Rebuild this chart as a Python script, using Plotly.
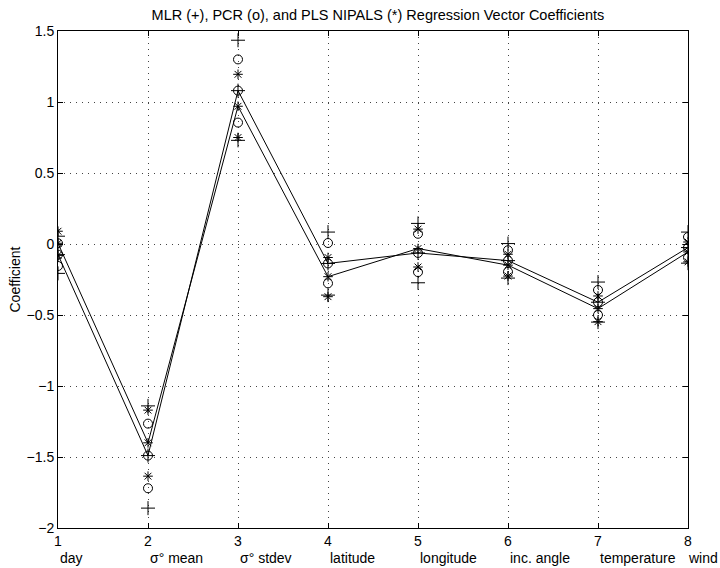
import plotly.graph_objects as go

# ---- data ----
x_vals = [1, 2, 3, 4, 5, 6, 7, 8]
var_names = ["day", "σ° mean", "σ° stdev", "latitude", "longitude",
             "inc. angle", "temperature", "wind"]

# MLR and PCR share the same coefficient estimates (full-rank PCR = MLR)
mlr_coef = [-0.075, -1.49, 1.08, -0.137, -0.063, -0.117, -0.41, -0.025]
mlr_upper = [0.055, -1.14, 1.435, 0.084, 0.145, 0.003, -0.268, 0.084]
mlr_lower = [-0.207, -1.86, 0.73, -0.36, -0.273, -0.24, -0.55, -0.135]

pcr_coef = [-0.075, -1.49, 1.08, -0.137, -0.063, -0.117, -0.41, -0.025]
pcr_upper = [0.005, -1.265, 1.30, 0.007, 0.072, -0.044, -0.324, 0.049]
pcr_lower = [-0.155, -1.72, 0.855, -0.277, -0.198, -0.196, -0.50, -0.095]

pls_coef = [0.005, -1.40, 0.97, -0.23, -0.032, -0.149, -0.455, -0.056]
pls_upper = [0.09, -1.17, 1.195, -0.095, 0.105, -0.072, -0.366, 0.014]
pls_lower = [-0.08, -1.635, 0.75, -0.371, -0.162, -0.226, -0.547, -0.126]

y_ticks = [-2, -1.5, -1, -0.5, 0, 0.5, 1, 1.5]

FONT = "Liberation Sans, Arial, Helvetica, sans-serif"

fig = go.Figure()

# lines through MLR/PCR and PLS coefficients
fig.add_trace(go.Scatter(x=x_vals, y=mlr_coef, mode="lines",
                         line=dict(color="black", width=1), hoverinfo="skip"))
fig.add_trace(go.Scatter(x=x_vals, y=pls_coef, mode="lines",
                         line=dict(color="black", width=1), hoverinfo="skip"))

def add_markers(center, upper, lower, symbol, size):
    fig.add_trace(go.Scatter(
        x=x_vals * 3, y=center + upper + lower, mode="markers",
        marker=dict(symbol=symbol, size=size, color="black",
                    line=dict(color="black", width=1)),
        hoverinfo="skip"))

add_markers(mlr_coef, mlr_upper, mlr_lower, "cross-thin-open", 10)
add_markers(pcr_coef, pcr_upper, pcr_lower, "circle-open", 9)
add_markers(pls_coef, pls_upper, pls_lower, "asterisk-open", 8)

# variable names under the numeric tick labels
for xv, name in zip(x_vals[:-1], var_names[:-1]):
    fig.add_annotation(x=xv, y=0, xref="x", yref="paper", yshift=-30,
                       text=name, showarrow=False, xanchor="left",
                       yanchor="middle", font=dict(family=FONT, size=14, color="black"))
fig.add_annotation(x=1, y=0, xref="paper", yref="paper", xshift=32, yshift=-30,
                   text=var_names[-1], showarrow=False, xanchor="right",
                   yanchor="middle", font=dict(family=FONT, size=14, color="black"))

# y-axis label
fig.add_annotation(x=0, y=0.5, xref="paper", yref="paper", xshift=-44,
                   text="Coefficient", textangle=-90, showarrow=False,
                   xanchor="center", yanchor="middle",
                   font=dict(family=FONT, size=14, color="black"))

fig.update_layout(
    width=720, height=568,
    margin=dict(l=58, r=32, t=31, b=40),
    paper_bgcolor="white", plot_bgcolor="white",
    showlegend=False,
    font=dict(family=FONT, size=14, color="black"),
    title=dict(text="MLR (+), PCR (o), and PLS NIPALS (*) Regression Vector Coefficients",
               x=0.525, xanchor="center", y=0.974, yanchor="middle",
               font=dict(family=FONT, size=14.5, color="black")),
)

fig.update_xaxes(range=[1, 8], tickvals=x_vals, ticktext=[str(v) for v in x_vals],
                 showgrid=True, gridcolor="#444", gridwidth=1, griddash="1px,5px",
                 showline=True, linecolor="black", linewidth=1, mirror="ticks",
                 ticks="inside", ticklen=5, tickcolor="black", automargin=False,
                 zeroline=False, tickfont=dict(family=FONT, size=14))
fig.update_yaxes(range=[-2, 1.5], tickvals=y_ticks,
                 showgrid=True, gridcolor="#444", gridwidth=1, griddash="1px,5px",
                 showline=True, linecolor="black", linewidth=1, mirror="ticks",
                 ticks="inside", ticklen=5, tickcolor="black", automargin=False,
                 zeroline=False, tickfont=dict(family=FONT, size=14))

# remove the default 8px page margin so the figure fills the window exactly
fig.write_html("out.html",
               config={"displayModeBar": False, "staticPlot": True},
               post_script="document.body.style.margin='0';document.body.style.overflow='hidden';")
